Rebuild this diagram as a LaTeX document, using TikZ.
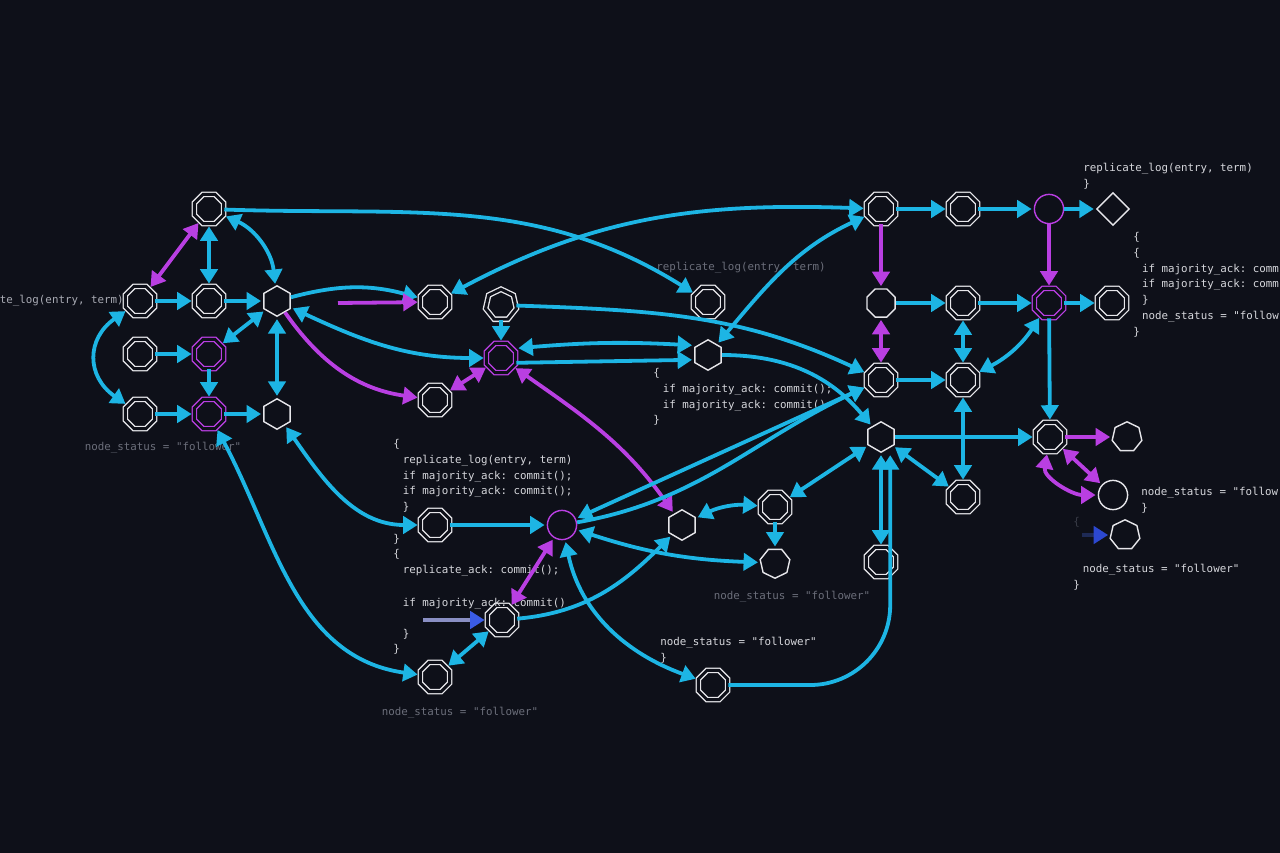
\documentclass[tikz,border=0pt]{standalone}
\usepackage{fontspec}
\setmonofont{DejaVu Sans Mono}
\usetikzlibrary{arrows.meta,shapes.geometric}
\definecolor{bg}{HTML}{0E1019}
\definecolor{flow}{HTML}{1DB5E4}
\definecolor{vio}{HTML}{B93FE2}
\definecolor{edge}{HTML}{E6E6EA}
\definecolor{code}{HTML}{D6D7DC}
\definecolor{dim}{HTML}{6B6E7A}
\definecolor{mid}{HTML}{A9ABB4}
\definecolor{faint}{HTML}{3A3D48}
\definecolor{lav}{HTML}{8A8FC4}
\definecolor{bluet}{HTML}{3A5CE6}
\definecolor{navy}{HTML}{1E2A55}
\definecolor{bluer}{HTML}{2C48D0}

\begin{document}
\begin{tikzpicture}[x=0.025cm, y=0.025cm,
      oct/.style={regular polygon, regular polygon sides=8, minimum size=7.9mm, inner sep=0pt, draw=edge, double=bg, double distance=2.1pt, line width=0.95pt},
      poct/.style={oct, draw=vio},
      hept/.style={oct, regular polygon sides=7},
      hexn/.style={regular polygon, regular polygon sides=6, shape border rotate=30, minimum size=7.6mm, inner sep=0pt, draw=edge, line width=1pt},
      sept/.style={hexn, regular polygon sides=7, shape border rotate=0},
      soct/.style={hexn, regular polygon sides=8, shape border rotate=0},
      ring/.style={circle, minimum size=7.3mm, inner sep=0pt, draw=vio, line width=1pt},
      wring/.style={ring, draw=edge},
      dia/.style={diamond, minimum width=8.2mm, minimum height=8.2mm, inner sep=0pt, draw=edge, line width=1pt},
      arr/.style={-{Triangle[length=3.6mm,width=4.3mm]}, line width=2.7pt, draw=flow, shorten >=1.5pt},
      darr/.style={arr, {Triangle[length=3.6mm,width=4.3mm]}-{Triangle[length=3.6mm,width=4.3mm]}, shorten <=1.5pt},
      parr/.style={arr, draw=vio},
      pdarr/.style={darr, draw=vio},
      barr/.style={-{Triangle[length=3.6mm,width=4.3mm,color=bluet]}, line width=2.7pt, draw=lav, shorten >=1.5pt},
      qarr/.style={barr, -{Triangle[length=3.6mm,width=4.3mm,color=bluer]}, draw=navy},
      code/.style={font=\ttfamily\fontsize{7.7}{11.2}\selectfont, text=code, inner sep=0pt, align=left},
      dimtxt/.style={code, text=dim}]
    \fill[bg] (0,0) rectangle (1280,-853);
    \useasboundingbox (0,0) rectangle (1280,-853);

    \node[oct] (a1) at (209,-209) {};
    \node[oct] (a2) at (140,-301) {};
    \node[oct] (a3) at (209,-301) {};
    \node[hexn] (a4) at (277,-301) {};
    \node[oct] (b1) at (140,-354) {};
    \node[poct] (b2) at (209,-354) {};
    \node[oct] (c1) at (140,-414) {};
    \node[poct] (c2) at (209,-414) {};
    \node[hexn] (c3) at (277,-414) {};

    \node[oct] (d1) at (435,-302) {};
    \node[oct] (d2) at (435,-400) {};
    \node[hept] (d3) at (501,-305) {};
    \node[poct] (d4) at (501,-358) {};
    \node[oct] (e1) at (708,-302) {};
    \node[hexn] (e2) at (708,-355) {};
    \node[oct] (f1) at (435,-525) {};
    \node[ring] (f2) at (562,-525) {};
    \node[oct] (f3) at (502,-620) {};
    \node[oct] (f4) at (435,-677) {};
    \node[hexn] (g2) at (682,-525) {};
    \node[oct] (g3) at (775,-507) {};
    \node[sept, shape border rotate=180] (g4) at (775,-563) {};
    \node[oct] (g5) at (713,-685) {};

    \node[oct] (r1) at (881,-209) {};
    \node[oct] (r2) at (963,-209) {};
    \node[ring] (r3) at (1049,-209) {};
    \node[dia] (r4) at (1113,-209) {};
    \node[soct] (r5) at (881,-303) {};
    \node[oct] (r6) at (963,-303) {};
    \node[poct] (r7) at (1049,-303) {};
    \node[oct] (r8) at (1112,-303) {};
    \node[oct] (r9) at (881,-380) {};
    \node[oct] (r10) at (963,-380) {};
    \node[hexn] (r11) at (881,-437) {};
    \node[oct] (r12) at (1050,-437) {};
    \node[oct] (r13) at (963,-497) {};
    \node[sept] (r14) at (1127,-437) {};
    \node[wring] (r15) at (1113,-495) {};
    \node[sept] (r16) at (1125,-535) {};
    \node[oct] (r17) at (881,-562) {};

    \node[code, text=mid, anchor=east] (tlog) at (124,-301) {te\_log(entry, term)};
    \node[dimtxt] (tfol1) at (163,-448) {node\_status = "follower"};
    \node[dimtxt, anchor=west] (trep) at (656,-268) {replicate\_log(entry, term)};
    \node[code, anchor=north west] (tblk1) at (393,-439) {\{\\
      \hspace*{2.4mm}replicate\_log(entry, term)\\
      \hspace*{2.4mm}if majority\_ack: commit();\\
      \hspace*{2.4mm}if majority\_ack: commit();\\
      \hspace*{2.4mm}\}\\[3.95mm]
      \}\\
      \{\\
      \hspace*{2.4mm}replicate\_ack: commit();\\[4.4mm]
      \hspace*{2.4mm}if majority\_ack: commit()\\[3.6mm]
      \hspace*{2.4mm}\}\\
      \}};
    \node[code, anchor=north west] (tblk2) at (653,-368) {\{\\
      \hspace*{2.4mm}if majority\_ack: commit();\\
      \hspace*{2.4mm}if majority\_ack: commit()\\
      \}};
    \node[code, anchor=north west] (tblk3) at (1083,-163) {replicate\_log(entry, term)\\ \}};
    \node[code, anchor=north west] (tblk4) at (1133,-232) {\{\\
      \{\\
      \hspace*{2.2mm}if majority\_ack: comm\\
      \hspace*{2.2mm}if majority\_ack: comm\\
      \hspace*{2.2mm}\}\\
      \hspace*{2.2mm}node\_status = "follow\\
      \}};
    \node[code, anchor=north west] (tblk5) at (1141,-487) {node\_status = "follow\\ \}};
    \node[code, text=faint, anchor=west] (tbr) at (1073,-522) {\{};
    \node[code, anchor=north west] (tblk6) at (1073,-564) {\hspace*{2.4mm}node\_status = "follower"\\ \}};
    \node[dimtxt] (tfol2) at (792,-597) {node\_status = "follower"};
    \node[code, anchor=north west] (tblk7) at (660,-637) {node\_status = "follower"\\ \}};
    \node[dimtxt] (tfol3) at (460,-713) {node\_status = "follower"};

    \draw[pdarr] (a1) -- (a2);
    \draw[darr] (a1) -- (a3);
    \draw[darr] (a1) to[bend left=30] (a4);
    \draw[arr] (a2) -- (a3);
    \draw[arr] (a3) -- (a4);
    \draw[darr] (a2) to[out=215, in=145, looseness=1.35] (c1);
    \draw[arr] (b1) -- (b2);
    \draw[darr] (b2) -- (a4);
    \draw[arr] (b2) -- (c2);
    \draw[arr] (c1) -- (c2);
    \draw[arr] (c2) -- (c3);
    \draw[darr] (a4) -- (c3);

    \draw[arr] (a1) to[out=-2, in=148] (e1);
    \draw[arr] (a4) to[out=15, in=165] (d1);
    \coordinate (pin) at (338,-303);
    \draw[parr] (pin) -- (d1);
    \draw[parr] (a4) to[out=-55, in=172] (d2);
    \draw[darr] (a4) to[out=-25, in=180] (d4);
    \draw[pdarr] (d2) -- (d4);
    \draw[arr] (d3) -- (d4);
    \draw[darr] (d1) to[out=28, in=178] (r1);
    \draw[darr] (e2) to[out=50, in=205] (r1);
    \draw[darr] ([yshift=2.4mm]d4.east) to[bend left=4] ([yshift=2.4mm]e2.west);
    \draw[arr] ([yshift=-1.2mm]d4.east) -- ([yshift=-1.2mm]e2.west);
    \draw[arr] (d3) to[out=-2, in=155] (r9);
    \draw[arr] (e2) to[out=0, in=130] (r11);
    \draw[pdarr] (d4) to[out=-35, in=125] (g2);

    \draw[arr] (f1) -- (f2);
    \draw[pdarr] (f2) -- (f3);
    \draw[darr] (f3) -- (f4);
    \coordinate (bin) at (423,-620);
    \draw[barr] (bin) -- (f3);
    \draw[arr] (f3) to[out=5, in=225] (g2);
    \draw[darr] (c3) to[out=-55, in=180] (f1);
    \draw[darr] (c2) to[out=-62, in=172] (f4);
    \draw[arr] (f2) to[out=10, in=205] (r9);
    \draw[darr] (f2) -- (r9);
    \draw[darr] (f2) to[bend right=8] (g4);
    \draw[darr] (f2) to[out=-78, in=160] (g5);
    \draw[darr] (g2) to[bend left=15] (g3);
    \draw[arr] (g3) -- (g4);
    \draw[darr] (g3) -- (r11);
    \draw[arr, rounded corners=20mm] (g5) -| ([xshift=2.3mm]r11.south);

    \draw[arr] (r1) -- (r2);
    \draw[arr] (r2) -- (r3);
    \draw[arr] (r3) -- (r4);
    \draw[parr] (r1) -- (r5);
    \draw[parr] (r3) -- (r7);
    \draw[arr] (r5) -- (r6);
    \draw[arr] (r6) -- (r7);
    \draw[arr] (r7) -- (r8);
    \draw[pdarr] (r5) -- (r9);
    \draw[darr] (r6) -- (r10);
    \draw[arr] (r9) -- (r10);
    \draw[darr] (r10) to[bend right=15] (r7);
    \draw[arr] (r7) -- (r12);
    \draw[arr] (r11) -- (r12);
    \draw[darr] (r10) -- (r13);
    \draw[darr] (r11) -- (r13);
    \draw[parr] (r12) -- (r14);
    \draw[pdarr] (r12) -- (r15);
    \draw[pdarr] (r12) to[out=-100, in=180] (r15);
    \draw[darr] (r11) -- (r17);
    \coordinate (qin) at (1082,-535);
    \draw[qarr] (qin) -- (r16);
  \end{tikzpicture}
\end{document}
